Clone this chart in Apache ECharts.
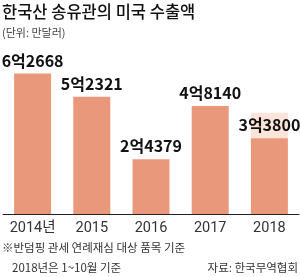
<!DOCTYPE html>
<html><head><meta charset="utf-8">
<script src="https://cdn.jsdelivr.net/npm/echarts@6/dist/echarts.min.js"></script>
<style>html,body{margin:0;padding:0;background:#fff}#c{width:300px;height:277px}</style>
</head><body><div id="c"></div>
<script>
var categories = ['2014년', '2015', '2016', '2017', '2018'];
var values = [62668, 52321, 24379, 48140, 33800];
var valueLabels = ['6억2668', '5억2321', '2억4379', '4억8140', '3억3800'];
var ghostValues = [0, 0, 0, 0, 11300];
var titleText = '한국산 송유관의 미국 수출액';
var unitText = '(단위: 만달러)';
var note1 = '※반덤핑 관세 연례재심 대상 품목 기준';
var note2 = '2018년은 1~10월 기준';
var sourceText = '자료: 한국무역협회';

var NUM = 'Roboto, "Noto Sans CJK KR", sans-serif';
var KR = '"Noto Sans CJK KR", sans-serif';
var chart = echarts.init(document.getElementById('c'), null, {renderer: 'canvas'});
chart.setOption({
  animation: false,
  grid: {left: 3, right: 1, top: 57, bottom: 63},
  xAxis: {
    type: 'category', data: categories,
    axisLine: {lineStyle: {color: '#222', width: 1}},
    axisTick: {show: false},
    axisLabel: {interval: 0, color: '#333', fontSize: 14.5, fontFamily: NUM, margin: 7}
  },
  yAxis: {type: 'value', min: 0, max: 70000, show: false, splitLine: {show: false}},
  series: [{
    type: 'bar', stack: 'a', data: values, barWidth: 37,
    itemStyle: {color: '#EA987B'},
    label: {show: true, position: 'top', distance: 5, fontSize: 16, fontWeight: 'bold',
      color: '#111', fontFamily: KR,
      formatter: function (p) { return valueLabels[p.dataIndex]; }},
    z: 3
  }, {
    type: 'bar', stack: 'a', data: ghostValues, barWidth: 37,
    itemStyle: {color: '#FCE4D9'}, silent: true, z: 1
  }],
  graphic: [
    {type: 'text', left: 2, top: 3, style: {text: titleText, fontSize: 16.5, fontWeight: 500, fill: '#111', fontFamily: KR}},
    {type: 'text', left: 2, top: 27, style: {text: unitText, fontSize: 11, fill: '#444', fontFamily: KR}},
    {type: 'text', left: 2, top: 242, style: {text: note1, fontSize: 11.5, fill: '#333', fontFamily: KR}},
    {type: 'text', left: 12, top: 262, style: {text: note2, fontSize: 11.5, fill: '#333', fontFamily: KR}},
    {type: 'text', right: 2, top: 262, style: {text: sourceText, fontSize: 11.5, fill: '#333', fontFamily: KR}}
  ]
});
</script></body></html>
